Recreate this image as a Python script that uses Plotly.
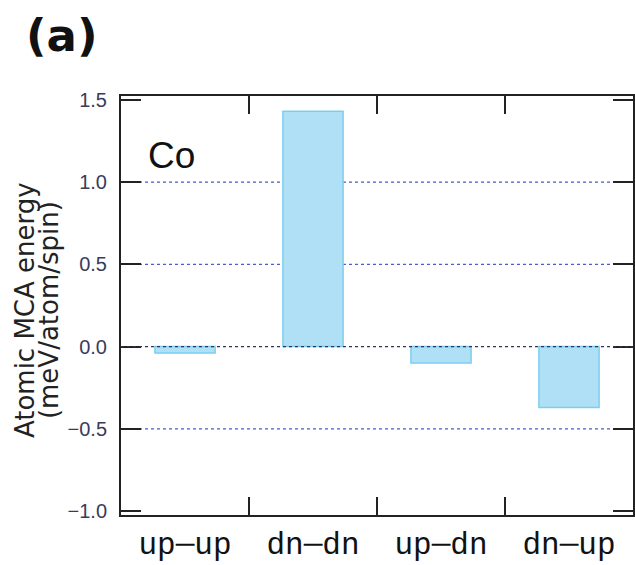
import plotly.graph_objects as go

categories = ["up─up", "dn─dn", "up─dn", "dn─up"]
mca_energy = [-0.04, 1.43, -0.10, -0.37]
y_ticks = [-1.0, -0.5, 0.0, 0.5, 1.0, 1.5]
grid_values = [-0.5, 0.5, 1.0]

fig = go.Figure()
fig.add_trace(go.Bar(
    x=categories, y=mca_energy, width=0.47,
    marker=dict(color="#afe0f5", line=dict(color="#7dcdf0", width=1.5)),
))

for g in grid_values:
    fig.add_hline(y=g, line=dict(color="#4a5cc8", width=1.2, dash="dot"), layer="below")
fig.add_hline(y=0.0, line=dict(color="#333355", width=1.2, dash="dot"), layer="above")

fig.update_layout(
    width=635, height=565,
    margin=dict(l=121, r=2, t=96, b=50, autoexpand=False),
    paper_bgcolor="white", plot_bgcolor="white",
    showlegend=False,
    font=dict(family="Liberation Sans, Arial", color="#222"),
)
fig.update_xaxes(
    type="category", range=[-0.5, 3.5], automargin=False,
    showline=True, linecolor="#222", linewidth=2, mirror="ticks",
    ticks="inside", ticklen=18, tickwidth=2, tickcolor="#222",
    tickson="boundaries", showgrid=False,
    tickfont=dict(family="Liberation Mono, DejaVu Sans Mono", size=31, color="#111"),
    ticklabelstandoff=0,
)
fig.update_yaxes(
    range=[-1.024, 1.523], automargin=False,
    tickvals=y_ticks, tickformat=".1f",
    showline=True, linecolor="#222", linewidth=2, mirror="ticks",
    ticks="inside", ticklen=20, tickwidth=2, tickcolor="#222",
    showgrid=False, zeroline=False,
    tickfont=dict(family="Liberation Sans, Arial", size=20, color="#3a3a5a"),
    ticklabelstandoff=8,
)

fig.add_annotation(text="Co", xref="paper", yref="paper", x=0.048, y=0.857,
                   xanchor="left", yanchor="middle", showarrow=False,
                   font=dict(size=37, color="#111"))
fig.add_annotation(text="<b>(a)</b>", xref="paper", yref="paper", x=-0.19, y=1.145,
                   xanchor="left", yanchor="middle", showarrow=False,
                   font=dict(family="DejaVu Sans", size=45, color="#111"))
fig.add_annotation(text="Atomic MCA energy", xref="paper", yref="paper",
                   x=-0.1875, y=0.489, xanchor="center", yanchor="middle", showarrow=False,
                   textangle=-90, font=dict(family="DejaVu Sans", size=26, color="#222"))
fig.add_annotation(text="(meV/atom/spin)", xref="paper", yref="paper",
                   x=-0.1406, y=0.489, xanchor="center", yanchor="middle", showarrow=False,
                   textangle=-90, font=dict(family="DejaVu Sans", size=26, color="#222"))

fig.write_html("out.html", config={"displayModeBar": False},
               post_script="document.body.style.margin='0';document.body.style.overflow='hidden';")
